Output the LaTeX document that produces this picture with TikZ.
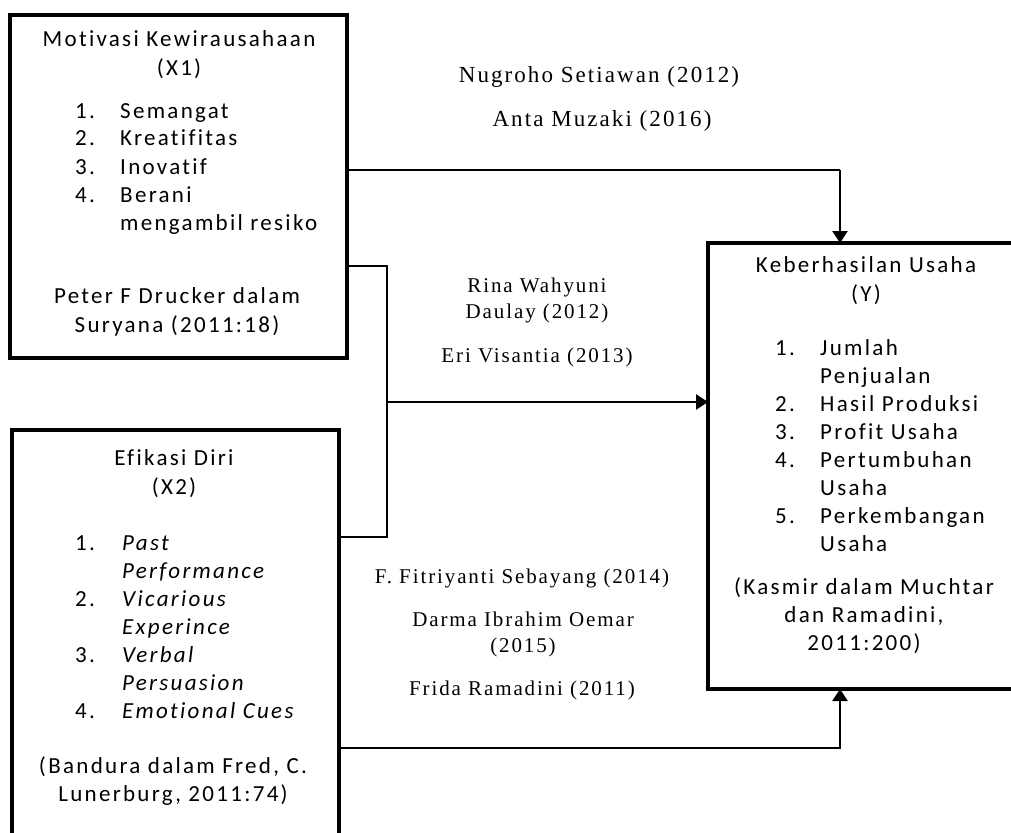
\documentclass[tikz,border=0pt]{standalone}
\usepackage{fontspec}
\setmainfont{Carlito}[LetterSpace=10, Ligatures=NoCommon]
\newfontfamily\reffont{Liberation Serif}[LetterSpace=9, Ligatures=NoCommon]
\usetikzlibrary{arrows.meta, positioning}

\begin{document}
\begin{tikzpicture}[x=1pt, y=-1pt, >={Triangle[width=15pt,length=12pt]},
  varbox/.style={draw, line width=3.3pt, outer sep=0pt, inner sep=0pt},
  boxtext/.style={font=\fontsize{23}{28}\selectfont, inner sep=0pt, anchor=base},
  itemtext/.style={font=\fontsize{23}{28}\selectfont, inner sep=0pt, anchor=base west},
  refnote/.style={font=\reffont\fontsize{21}{26}\selectfont, inner sep=0pt, anchor=base},
  link/.style={line width=2.7pt}]
  \useasboundingbox (0,0) rectangle (1011,832);
  \clip (0,0) rectangle (1011,832);
  % variable boxes
  \node[varbox, minimum width=337pt, minimum height=343pt] (x1) at (178.5,186.5) {};
  \node[varbox, minimum width=327pt, minimum height=430pt] (x2) at (175.5,645) {};
  \node[varbox, minimum width=332pt, minimum height=446pt] (y) at (874,466) {};
  % X1
  \node[boxtext] (x1title) at (179,47) {\begin{tabular}[t]{@{}c@{}}Motivasi Kewirausahaan\\[1pt](X1)\end{tabular}};
  \node[itemtext] (x1list) at (75,118) {\begin{tabular}[t]{@{}p{45pt}@{}l@{}}1.&Semangat\\2.&Kreatifitas\\3.&Inovatif\\4.&Berani\\&mengambil resiko\end{tabular}};
  \node[boxtext] (x1src) at (177,303) {\begin{tabular}[t]{@{}c@{}}Peter F Drucker dalam\\[1pt]Suryana (2011:18)\end{tabular}};
  % X2
  \node[boxtext] (x2title) at (174,465) {\begin{tabular}[t]{@{}c@{}}Efikasi Diri\\[1pt](X2)\end{tabular}};
  \node[itemtext] (x2list) at (75,550) {\begin{tabular}[t]{@{}p{47pt}@{}l@{}}1.&\textit{Past}\\&\textit{Performance}\\2.&\textit{Vicarious}\\&\textit{Experince}\\3.&\textit{Verbal}\\&\textit{Persuasion}\\4.&\textit{Emotional Cues}\end{tabular}};
  \node[boxtext] (x2src) at (173,773) {\begin{tabular}[t]{@{}c@{}}(Bandura dalam Fred, C.\\Lunerburg, 2011:74)\end{tabular}};
  % Y
  \node[boxtext] (ytitle) at (866,272) {\begin{tabular}[t]{@{}c@{}}Keberhasilan Usaha\\[1pt](Y)\end{tabular}};
  \node[itemtext] (ylist) at (775,355) {\begin{tabular}[t]{@{}p{45pt}@{}l@{}}1.&Jumlah\\&Penjualan\\2.&Hasil Produksi\\3.&Profit Usaha\\4.&Pertumbuhan\\&Usaha\\5.&Perkembangan\\&Usaha\end{tabular}};
  \node[boxtext] (ysrc) at (864,594) {\begin{tabular}[t]{@{}c@{}}(Kasmir dalam Muchtar\\dan Ramadini,\\2011:200)\end{tabular}};
  % references on the paths
  \node[refnote, font=\reffont\fontsize{23}{26}\selectfont] (nugroho) at (599,83) {Nugroho Setiawan (2012)};
  \node[refnote, font=\reffont\fontsize{23}{26}\selectfont] (anta) at (602,127) {Anta Muzaki (2016)};
  \node[refnote] (rina) at (537,292) {\begin{tabular}[t]{@{}c@{}}Rina Wahyuni\\Daulay (2012)\end{tabular}};
  \node[refnote] (eri) at (537,362) {Eri Visantia (2013)};
  \node[refnote] (fitri) at (522,583) {F. Fitriyanti Sebayang (2014)};
  \node[refnote] (darma) at (523,626) {\begin{tabular}[t]{@{}c@{}}Darma Ibrahim Oemar\\(2015)\end{tabular}};
  \node[refnote] (frida) at (522,695) {Frida Ramadini (2011)};
  % path levels
  \coordinate (lvA) at (0,170);
  \coordinate (lvB) at (0,266);
  \coordinate (lvC) at (0,402);
  \coordinate (lvD) at (0,537);
  \coordinate (lvE) at (0,748);
  \coordinate (colJ) at (387,0);
  \coordinate (colY) at (840,0);
  % connectors
  \draw[line width=1.5pt] (x1.east |- lvA) -- (colY |- lvA);
  \draw[link, ->] (colY |- lvA) -- (y.north -| colY);
  \draw[link] (x1.east |- lvB) -| (colJ |- lvD) -- (x2.east |- lvD);
  \draw[link, line width=2.4pt, ->] (colJ |- lvC) -- (y.west |- lvC);
  \draw[link, ->] (x2.east |- lvE) -| (y.south -| colY);
\end{tikzpicture}
\end{document}
